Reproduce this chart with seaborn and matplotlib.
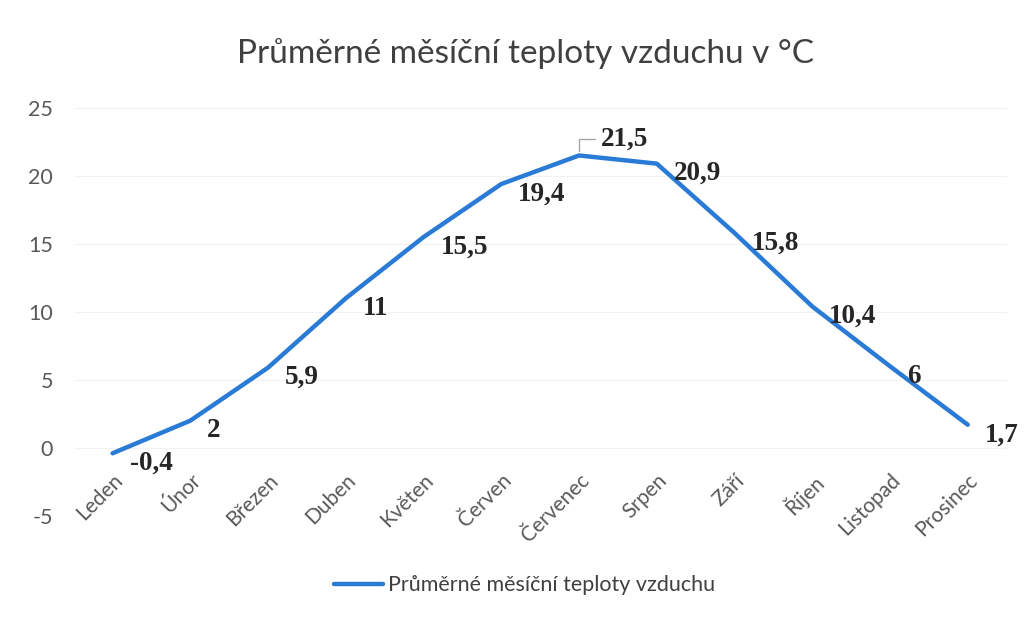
import matplotlib
matplotlib.use('Agg')
import matplotlib.pyplot as plt
import seaborn as sns
import pandas as pd

# data
months = ['Leden', 'Únor', 'Březen', 'Duben', 'Květen', 'Červen',
          'Červenec', 'Srpen', 'Září', 'Říjen', 'Listopad', 'Prosinec']
temps = [-0.4, 2, 5.9, 11, 15.5, 19.4, 21.5, 20.9, 15.8, 10.4, 6, 1.7]
labels = ['-0,4', '2', '5,9', '11', '15,5', '19,4', '21,5', '20,9', '15,8', '10,4', '6', '1,7']
series_name = 'Průměrné měsíční teploty vzduchu'

sns.set_theme(style='white')
plt.rcParams['font.family'] = ['Lato', 'DejaVu Sans']
plt.rcParams['axes.unicode_minus'] = False

df = pd.DataFrame({'Měsíc': months, 'Teplota': temps})

fig = plt.figure(figsize=(10.24, 6.2), dpi=100)
ax = fig.add_axes([0.072, 0.168, 0.911, 0.658])

sns.lineplot(data=df, x='Měsíc', y='Teplota', ax=ax, color='#2a7bd6', lw=3.2,
             sort=False, label=series_name, legend=False)

ax.set_xlim(-0.5, len(months) - 0.5)
ax.set_ylim(-5, 25)
ax.set_yticks(range(-5, 26, 5))
ax.yaxis.grid(True, color='#f2f2f2', lw=0.8)
ax.set_axisbelow(True)
for s in ax.spines.values():
    s.set_visible(False)
# category axis crosses at 0, so its labels hang below the zero line
ax.spines['bottom'].set_position(('data', 0))
ax.set_xlabel('')
ax.set_ylabel('')
ax.tick_params(axis='y', length=0, pad=15, labelsize=15.5, labelcolor='#595959')
ax.tick_params(axis='x', length=0, pad=16, labelsize=15, labelcolor='#595959')
plt.setp(ax.get_xticklabels(), rotation=45, ha='right', va='top', rotation_mode='anchor')

# data labels
for i, (v, lab) in enumerate(zip(temps, labels)):
    if lab == '21,5':
        ax.annotate(lab, xy=(i, v), xytext=(22, 16), textcoords='offset pixels',
                    ha='left', va='center', fontsize=19.5, fontweight='bold',
                    family='Liberation Serif', color='#262626',
                    arrowprops=dict(arrowstyle='-', color='#a6a6a6', lw=1,
                                    connectionstyle='angle,angleA=0,angleB=90,rad=0',
                                    shrinkA=2, shrinkB=3))
    else:
        ax.annotate(lab, xy=(i, v), xytext=(17, -10), textcoords='offset pixels',
                    ha='left', va='center', fontsize=19.5, fontweight='bold',
                    family='Liberation Serif', color='#262626', annotation_clip=False)

fig.text(0.513, 0.914, 'Průměrné měsíční teploty vzduchu v °C', ha='center', va='center',
         fontsize=24, color='#404040')

handles, lbls = ax.get_legend_handles_labels()
fig.legend(handles, lbls, loc='center', bbox_to_anchor=(0.512, 0.056), frameon=False,
           fontsize=15.5, handlelength=2.3, handletextpad=0.2,
           labelcolor='#404040')

fig.savefig('out.png', dpi=100)
